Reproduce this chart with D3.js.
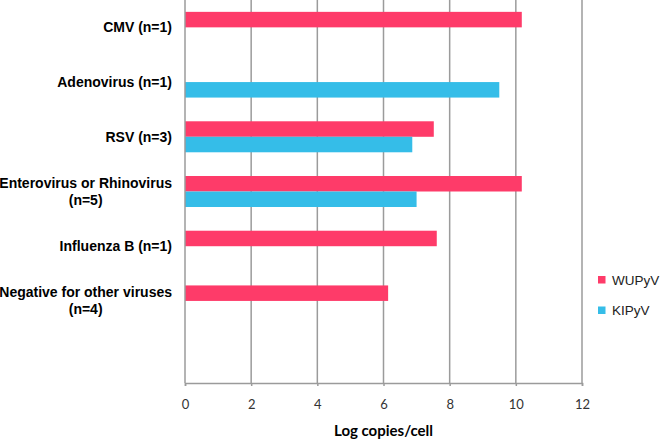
<!DOCTYPE html>
<html lang="en">
<head>
    <meta charset="UTF-8">
    <title>Log copies/cell by co-infection</title>
    <script src="https://cdn.jsdelivr.net/npm/d3@7"></script>
    <style>
        body { margin: 0; background: #fff; }
    </style>
</head>
<body>
    <script>
        // categories, top to bottom (last band is empty in the original)
        const categories = ['CMV (n=1)', 'Adenovirus (n=1)', 'RSV (n=3)', 'Enterovirus or Rhinovirus|(n=5)',
            'Influenza B (n=1)', 'Negative for other viruses|(n=4)', ''];
        const seriesNames = ['WUPyV', 'KIPyV'];
        const wupyv = [10.18, null, 7.52, 10.18, 7.61, 6.14, null];
        const kipyv = [null, 9.5, 6.87, 7.0, null, null, null];
        const xTicks = [0, 2, 4, 6, 8, 10, 12];

        const colors = { 'WUPyV': '#fe3b69', 'KIPyV': '#35bde8' };
        const gridColor = '#9b9b9b';

        const margin = { top: 0, right: 78, bottom: 57, left: 185 };
        const width = 660 - margin.left - margin.right;
        const height = 440 - margin.top - margin.bottom;

        const svg = d3.select('body')
            .append('svg')
            .attr('width', 660)
            .attr('height', 440)
            .append('g')
            .attr('transform', `translate(${margin.left},${margin.top})`);

        const xScale = d3.scaleLinear().domain([0, 12]).range([0, width]);
        const yScale = d3.scaleBand().domain(categories).range([0, height]);
        const inner = d3.scaleBand().domain(seriesNames)
            .range([yScale.bandwidth() / 2 - 15.5, yScale.bandwidth() / 2 + 15.5]);

        // vertical gridlines
        svg.append('g')
            .selectAll('line')
            .data(xTicks.slice(1))
            .enter().append('line')
            .attr('x1', d => xScale(d))
            .attr('x2', d => xScale(d))
            .attr('y1', 0)
            .attr('y2', height)
            .attr('stroke', gridColor)
            .attr('stroke-width', 1.5);

        // bars
        const rows = categories.map((c, i) => ({ cat: c, WUPyV: wupyv[i], KIPyV: kipyv[i] }));
        seriesNames.forEach(s => {
            svg.append('g')
                .selectAll('rect')
                .data(rows.filter(r => r[s] != null))
                .enter().append('rect')
                .attr('x', xScale(0))
                .attr('y', d => yScale(d.cat) + inner(s))
                .attr('width', d => xScale(d[s]) - xScale(0))
                .attr('height', inner.bandwidth())
                .attr('fill', colors[s]);
        });

        // x axis
        const xAxis = svg.append('g')
            .attr('transform', `translate(0, ${height})`)
            .call(d3.axisBottom(xScale).tickValues(xTicks).tickSize(3).tickPadding(14));
        xAxis.select('.domain').attr('stroke', gridColor).attr('stroke-width', 1.5);
        xAxis.selectAll('.tick line').attr('stroke', gridColor).attr('stroke-width', 1.5);
        xAxis.selectAll('.tick text')
            .style('font-family', 'Lato, sans-serif')
            .style('font-size', '13px')
            .attr('fill', '#333');

        // left axis line
        svg.append('line')
            .attr('x1', 0).attr('x2', 0)
            .attr('y1', 0).attr('y2', height)
            .attr('stroke', gridColor)
            .attr('stroke-width', 1.5);

        // category labels
        const labels = svg.append('g')
            .selectAll('text')
            .data(categories)
            .enter().append('text')
            .style('font-family', 'Liberation Sans, Arial, sans-serif')
            .style('font-size', '14px')
            .style('font-weight', 'bold')
            .attr('fill', '#000');

        labels.each(function (d) {
            const parts = d.split('|');
            const t = d3.select(this);
            const cy = yScale(d) + yScale.bandwidth() / 2;
            if (parts.length === 1) {
                t.attr('x', -13).attr('y', cy).attr('dy', '0.35em')
                    .attr('text-anchor', 'end').text(parts[0]);
            } else {
                const first = t.append('tspan').attr('x', -13).attr('y', cy - 8.5)
                    .attr('dy', '0.35em').attr('text-anchor', 'end').text(parts[0]);
                const w = first.node().getComputedTextLength();
                t.append('tspan').attr('x', -13 - w / 2).attr('y', cy + 8.5)
                    .attr('dy', '0.35em').attr('text-anchor', 'middle').text(parts[1]);
            }
        });

        // x axis title
        svg.append('text')
            .attr('x', width / 2)
            .attr('y', height + 53)
            .attr('text-anchor', 'middle')
            .style('font-family', 'Lato, sans-serif')
            .style('font-size', '15px')
            .style('font-weight', 'bold')
            .attr('fill', '#000')
            .text('Log copies/cell');

        // legend
        const legend = svg.append('g')
            .attr('transform', `translate(${width + 16}, 276)`)
            .selectAll('g')
            .data(seriesNames)
            .enter().append('g')
            .attr('transform', (d, i) => `translate(0, ${i * 30.5})`);

        legend.append('rect')
            .attr('width', 7.5)
            .attr('height', 7.5)
            .attr('fill', d => colors[d]);

        legend.append('text')
            .attr('x', 14)
            .attr('y', 4)
            .attr('dy', '0.35em')
            .style('font-family', 'Liberation Sans, Arial, sans-serif')
            .style('font-size', '13.5px')
            .attr('fill', '#222')
            .text(d => d);
    </script>
</body>
</html>
